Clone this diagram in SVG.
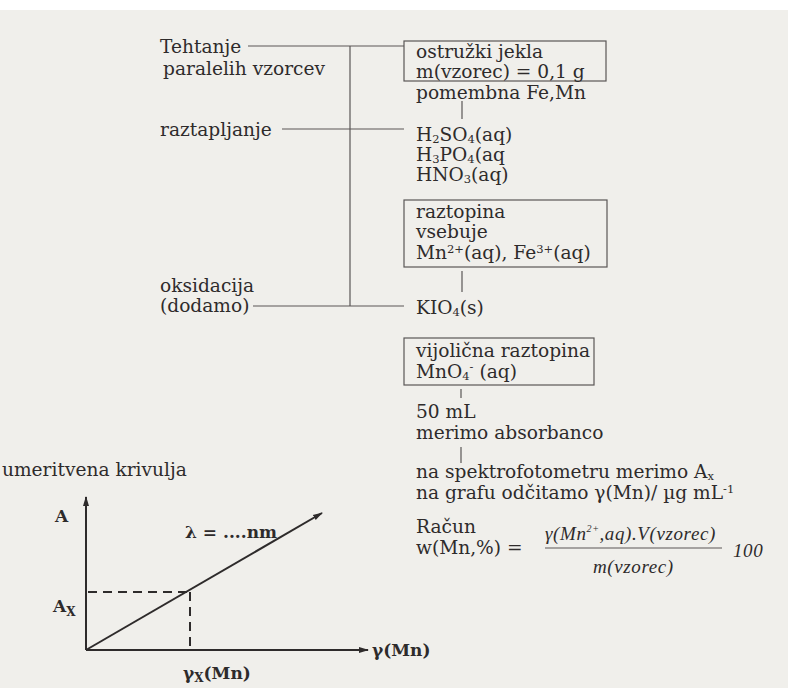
<svg xmlns="http://www.w3.org/2000/svg" width="788" height="688" viewBox="0 0 788 688">
<defs>
<style>
.t{font-family:"DejaVu Serif","Liberation Serif",serif;font-size:18.6px;fill:#2e2b2b}
.b{font-family:"DejaVu Serif","Liberation Serif",serif;font-size:17px;font-weight:bold;fill:#2e2b2b}
.f{font-family:"Liberation Serif",serif;font-size:19px;font-style:italic;letter-spacing:0.6px;fill:#2e2b2b}
.ln{stroke:#5a5656;stroke-width:1.2;fill:none}
.bx{stroke:#5a5656;stroke-width:1.2;fill:none}
.ax{stroke:#2e2b2b;stroke-width:2;fill:none}
.ds{stroke:#2e2b2b;stroke-width:2;fill:none;stroke-dasharray:9,6}
.sb{font-size:11.5px}
</style>
<marker id="ah" markerWidth="10" markerHeight="8" refX="9" refY="4" orient="auto" markerUnits="userSpaceOnUse">
<path d="M0,1 L10,4 L0,7 Z" fill="#2e2b2b"/>
</marker>
</defs>
<rect x="0" y="0" width="788" height="688" fill="#ffffff"/>
<rect x="0" y="10" width="788" height="678" fill="#f0efeb"/>

<g id="connectors">
<line class="ln" x1="248" y1="46" x2="404" y2="46"/>
<line class="ln" x1="350" y1="46" x2="350" y2="306"/>
<line class="ln" x1="282" y1="129" x2="404" y2="129"/>
<line class="ln" x1="253" y1="306" x2="404" y2="306"/>
<line class="ln" x1="462" y1="101" x2="462" y2="119"/>
<line class="ln" x1="462" y1="271" x2="462" y2="292"/>
<line class="ln" x1="461" y1="389" x2="461" y2="398"/>
<line class="ln" x1="461" y1="447" x2="461" y2="463"/>
</g>

<g id="tehtanje">
<text class="t" x="160" y="53">Tehtanje</text>
<text class="t" x="163" y="75">paralelih vzorcev</text>
</g>
<g id="raztapljanje">
<text class="t" x="160" y="136">raztapljanje</text>
</g>
<g id="oksidacija">
<text class="t" x="160" y="292">oksidacija</text>
<text class="t" x="160" y="312">(dodamo)</text>
</g>

<g id="vzorec">
<rect class="bx" x="404" y="41" width="202" height="40"/>
<text class="t" x="416" y="58">ostružki jekla</text>
<text class="t" x="416" y="78">m(vzorec) = 0,1 g</text>
<text class="t" x="416" y="99">pomembna Fe,Mn</text>
</g>

<g id="kisline">
<text class="t" x="416" y="141">H<tspan class="sb" dy="2">2</tspan><tspan dy="-2">SO</tspan><tspan class="sb" dy="2">4</tspan><tspan dy="-2">(aq)</tspan></text>
<text class="t" x="416" y="161">H<tspan class="sb" dy="2">3</tspan><tspan dy="-2">PO</tspan><tspan class="sb" dy="2">4</tspan><tspan dy="-2">(aq</tspan></text>
<text class="t" x="416" y="181">HNO<tspan class="sb" dy="2">3</tspan><tspan dy="-2">(aq)</tspan></text>
</g>

<g id="raztopina">
<rect class="bx" x="404" y="200" width="203" height="67"/>
<text class="t" x="416" y="218">raztopina</text>
<text class="t" x="416" y="238">vsebuje</text>
<text class="t" x="416" y="259">Mn<tspan class="sb" dy="-6">2+</tspan><tspan dy="6">(aq), Fe</tspan><tspan class="sb" dy="-6">3+</tspan><tspan dy="6">(aq)</tspan></text>
</g>

<g id="kio4">
<text class="t" x="416" y="314">KIO<tspan class="sb" dy="2">4</tspan><tspan dy="-2">(s)</tspan></text>
</g>

<g id="vijolicna">
<rect class="bx" x="404" y="338" width="190" height="47"/>
<text class="t" x="416" y="357">vijolična raztopina</text>
<text class="t" x="416" y="378">MnO<tspan class="sb" dy="2">4</tspan><tspan class="sb" dy="-9">-</tspan><tspan dy="7"> (aq)</tspan></text>
</g>

<g id="absorbanca">
<text class="t" x="416" y="418">50 mL</text>
<text class="t" x="416" y="439">merimo absorbanco</text>
</g>

<g id="spektrofotometer">
<text class="t" x="416" y="478">na spektrofotometru merimo A<tspan class="sb" dy="2">x</tspan></text>
<text class="t" x="416" y="499">na grafu odčitamo γ(Mn)/ µg mL<tspan class="sb" dy="-6">-1</tspan></text>
</g>

<g id="racun">
<text class="t" x="416" y="533">Račun</text>
<text class="t" x="416" y="554">w(Mn,%)  =</text>
<text class="f" x="545" y="540">γ(Mn<tspan font-size="10" dy="-8">2+</tspan><tspan dy="8">,aq).V(vzorec)</tspan></text>
<line class="ln" x1="545" y1="548" x2="722" y2="548"/>
<text class="f" x="733" y="557">100</text>
<text class="f" x="593" y="573">m(vzorec)</text>
</g>

<g id="umeritvena">
<text class="t" x="2" y="476">umeritvena krivulja</text>
<line class="ax" x1="86" y1="650" x2="86" y2="497" marker-end="url(#ah)"/>
<line class="ax" x1="86" y1="650" x2="368" y2="650" marker-end="url(#ah)"/>
<line class="ax" x1="86" y1="650" x2="322" y2="513" marker-end="url(#ah)"/>
<line class="ds" x1="88" y1="592" x2="190" y2="592"/>
<line class="ds" x1="190" y1="592" x2="190" y2="649"/>
<text class="b" x="55" y="522">A</text>
<text class="b" x="53" y="612">A<tspan font-size="12" dy="4">X</tspan></text>
<text class="b" x="185" y="538">λ = ....nm</text>
<text class="b" x="183" y="679">γ<tspan font-size="12" dy="3">X</tspan><tspan dy="-3">(Mn)</tspan></text>
<text class="b" x="372" y="656">γ(Mn)</text>
</g>
</svg>
